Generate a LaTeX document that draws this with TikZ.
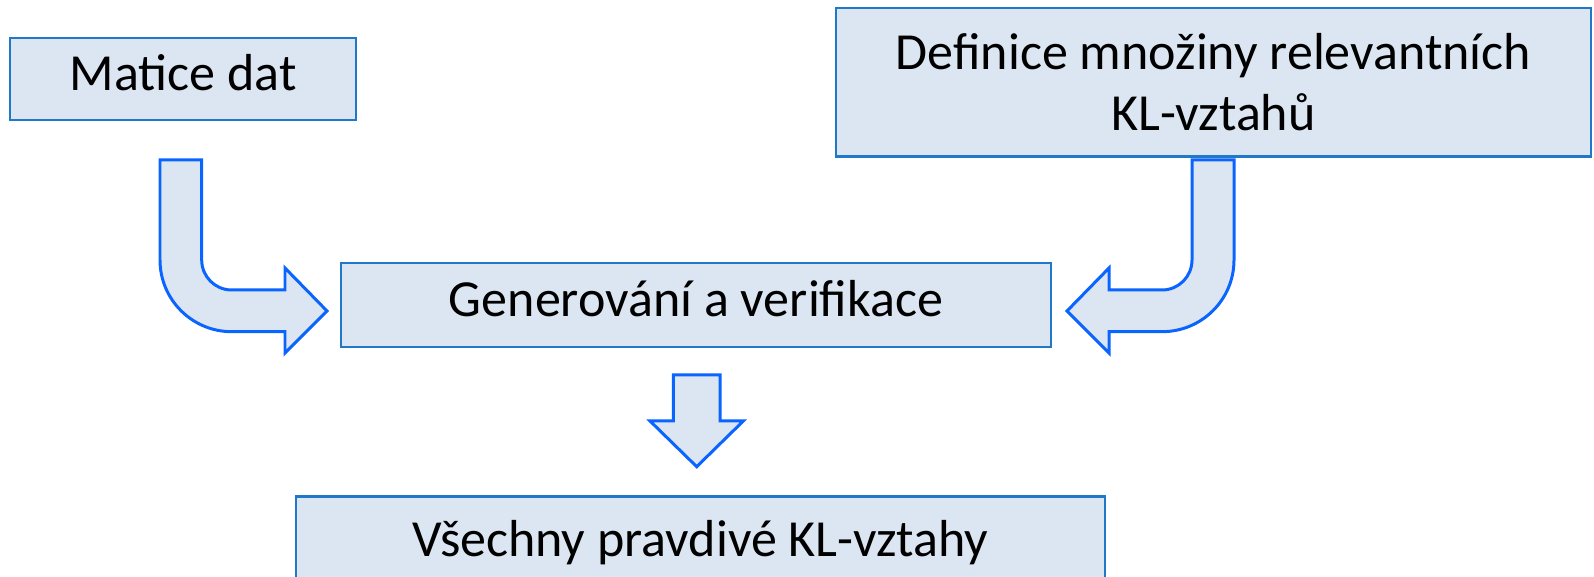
\documentclass[tikz,border=0pt]{standalone}
\usepackage{fontspec}
\setmainfont{Carlito}
\usetikzlibrary{positioning,calc}
\definecolor{boxfill}{HTML}{DCE6F2}
\definecolor{boxline}{HTML}{1F78C8}
\definecolor{arrline}{HTML}{0A64FF}

\begin{document}
\begin{tikzpicture}[
  x=0.01cm, y=-0.01cm,
  stepbox/.style={draw=boxline, line width=0.6pt, fill=boxfill,
                  inner sep=0pt, outer sep=0pt, align=center,
                  font=\fontsize{14.8pt}{17.4pt}\selectfont},
  oneline/.style={text height=0.644em, text depth=0pt},
  blockarrow/.style={draw=arrline, line width=0.85pt, fill=boxfill, line join=miter},
]
\useasboundingbox (0,0) rectangle (1594,577);

% Inputs
\node[stepbox, oneline, minimum width=3.46cm, minimum height=0.82cm]
  (data) at (183,79) {Matice dat};
\node[stepbox, minimum width=7.55cm, minimum height=1.48cm]
  (defs) at (1213.5,82.5) {Definice množiny relevantních\\KL-vztahů};

% Processing step
\node[stepbox, oneline, minimum width=7.09cm, minimum height=0.84cm]
  (gen) at (696,304.7) {Generování a verifikace};

% Result (cut off at the bottom edge)
\node[stepbox, oneline, minimum width=8.09cm, minimum height=0.97cm]
  (result) at (700.5,545) {Všechny pravdivé KL-vztahy};

% Bent arrow from the data matrix
\draw[blockarrow] (327,311) -- (285,353) -- (285,331.7) -- (231.7,331.7)
  .. controls (192.1,331.7) and (160,299.6) .. (160,260)
  -- (160,160) -- (201.7,160) -- (201.7,260)
  .. controls (201.7,276.6) and (215.1,290) .. (231.7,290)
  -- (285,290) -- (285,268) -- cycle;

% Bent arrow from the set of relations
\draw[blockarrow] (1067,311) -- (1109,353) -- (1109,331.7) -- (1162,331.7)
  .. controls (1201.8,331.7) and (1234,299.6) .. (1234,260)
  -- (1234,160) -- (1192,160) -- (1192,260)
  .. controls (1192,276.6) and (1178.6,290) .. (1162,290)
  -- (1109,290) -- (1109,268) -- cycle;

% Down arrow to the result
\draw[blockarrow] (673.3,375) -- (720,375) -- (720,421) -- (743.3,421)
  -- (696.7,466.7) -- (650,421) -- (673.3,421) -- cycle;

\end{tikzpicture}
\end{document}
